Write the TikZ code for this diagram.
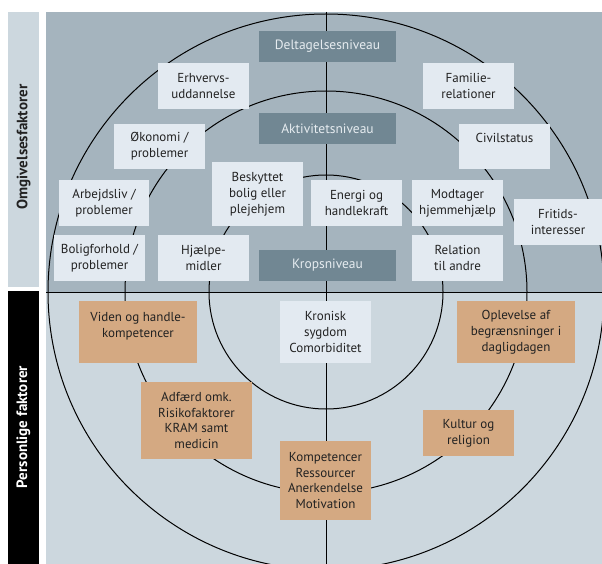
\documentclass[tikz,border=0pt]{standalone}
\usepackage{fontspec}
\setmainfont{PT Sans}
\usepackage{tikz}

\definecolor{envbg}{HTML}{A5B4BE}
\definecolor{persbg}{HTML}{CCD7DE}
\definecolor{envbar}{HTML}{CCD7DE}
\definecolor{levelfill}{HTML}{718793}
\definecolor{levelfont}{HTML}{E6ECF0}
\definecolor{lightbox}{HTML}{E3EAF1}
\definecolor{brownbox}{HTML}{D4A982}
\definecolor{textdark}{HTML}{222222}

\tikzset{
    factor/.style={fill=lightbox, text=textdark, align=center, inner sep=0pt,
        minimum width=91pt, minimum height=46pt,
        font=\fontsize{13}{15.8}\selectfont},
    personal/.style={factor, fill=brownbox},
    level/.style={fill=levelfill, text=levelfont, inner sep=0pt,
        minimum width=137pt, minimum height=31pt,
        font=\fontsize{13.5}{15}\selectfont},
    ring/.style={line width=1pt, black}
}

\begin{document}
\begin{tikzpicture}[x=1pt, y=-1pt]

    % canvas
    \useasboundingbox[fill=white] (0,0) rectangle (602,564);

    % side bars
    \fill[envbar] (8,12) rectangle (39,287);
    \fill[black] (8,291) rectangle (39,564);
    \node[rotate=90, text=textdark, font=\fontsize{15}{15}\selectfont\bfseries]
        (envlabel) at (23.5,147) {Omgivelsesfaktorer};
    \node[rotate=90, text=white, font=\fontsize{15}{15}\selectfont\bfseries]
        (perslabel) at (23.5,427) {Personlige faktorer};

    % panel halves
    \fill[envbg] (46,12) rectangle (602,292);
    \fill[persbg] (46,292) rectangle (602,564);

    % rings and axes
    \begin{scope}
        \clip (46,12) rectangle (602,564);
        \coordinate (centre) at (326,292);
        \draw[ring] (centre) circle[radius=117pt];
        \draw[ring] (centre) circle[radius=201pt];
        \draw[ring] (centre) circle[radius=278pt];
        \draw[ring] (326,12) -- (326,564);
        \draw[ring] (46,292) -- (602,292);
    \end{scope}

    % levels
    \node[level] (deltagelse) at (327.5,46.5) {Deltagelsesniveau};
    \node[level] (aktivitet) at (327.5,128.5) {Aktivitetsniveau};
    \node[level] (krop) at (327.5,265.5) {Kropsniveau};

    % environmental factors, left
    \node[factor] (erhverv) at (203.5,86) {Erhvervs-\\uddannelse};
    \node[factor, minimum height=45pt] (oekonomi) at (159.5,146.5) {Økonomi /\\problemer};
    \node[factor, minimum height=64pt] (beskyttet) at (257.5,194) {Beskyttet\\bolig eller\\plejehjem};
    \node[factor, minimum width=90pt] (arbejde) at (104,203) {Arbejdsliv /\\problemer};
    \node[factor] (bolig) at (99.5,258) {Boligforhold /\\problemer};
    \node[factor] (hjaelp) at (203.5,258) {Hjælpe-\\midler};

    % environmental factors, right
    \node[factor] (familie) at (468.5,86) {Familie-\\relationer};
    \node[factor, minimum height=45pt, text depth=18pt] (civil) at (504.5,146.5) {Civilstatus};
    \node[factor] (energi) at (356.5,203) {Energi og\\handlekraft};
    \node[factor] (modtager) at (457.5,203) {Modtager\\hjemmehjælp};
    \node[factor, minimum width=88pt] (fritid) at (558,222) {Fritids-\\interesser};
    \node[factor] (relation) at (457.5,258) {Relation\\til andre};

    % personal factors
    \node[factor, minimum height=62pt] (kronisk) at (325.5,332) {Kronisk\\sygdom\\Comorbiditet};
    \node[personal, minimum width=118pt, minimum height=62pt, text depth=15pt]
        (viden) at (138,332) {Viden og handle-\\kompetencer};
    \node[personal, minimum width=111pt, minimum height=77pt]
        (adfaerd) at (196.5,420.5) {Adfærd omk.\\Risikofaktorer\\KRAM samt\\medicin};
    \node[personal, minimum height=79pt]
        (kompetencer) at (325.5,480.5) {Kompetencer\\Ressourcer\\Anerkendelse\\Motivation};
    \node[personal, minimum width=118pt, minimum height=62pt]
        (oplevelse) at (516,332) {Oplevelse af\\begrænsninger i\\dagligdagen};
    \node[personal] (kultur) at (468.5,433) {Kultur og\\religion};

\end{tikzpicture}
\end{document}
